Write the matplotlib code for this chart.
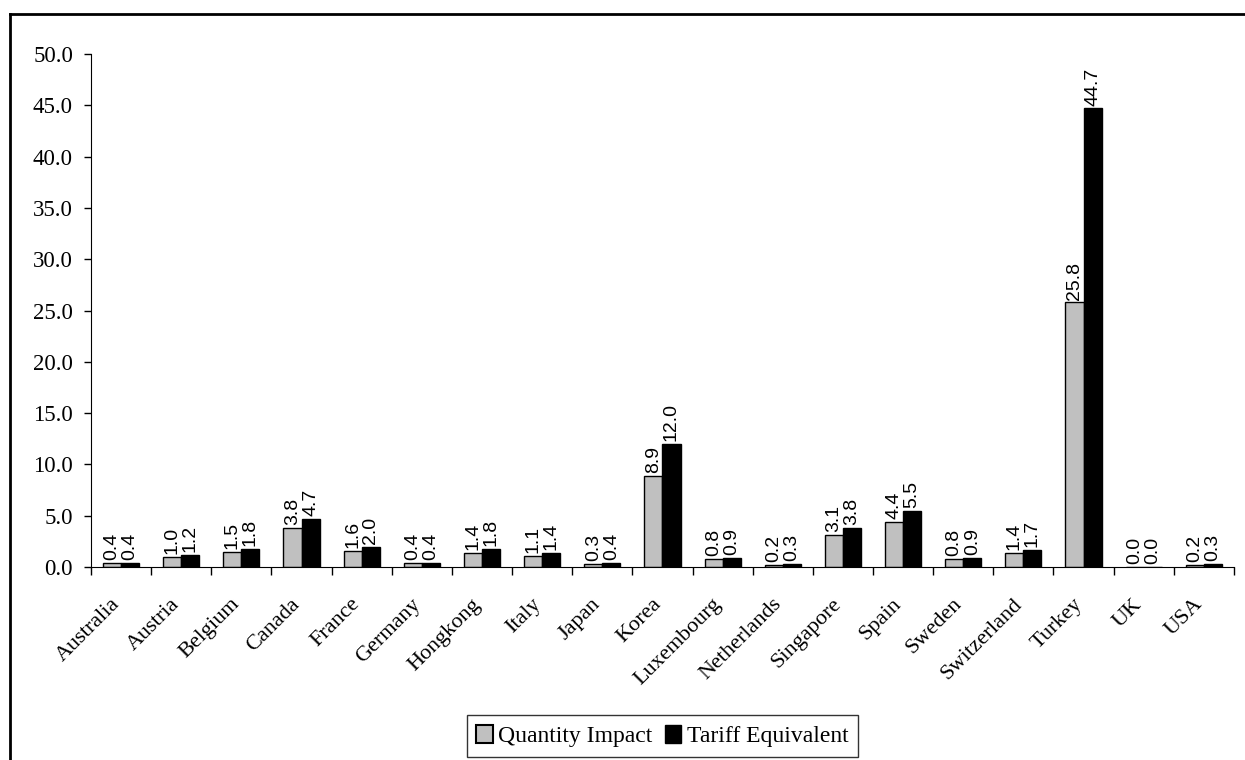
import numpy as np
import matplotlib
matplotlib.use('Agg')
import matplotlib.pyplot as plt
import matplotlib.transforms as mtransforms
from matplotlib.lines import Line2D
from matplotlib.patches import Patch
from matplotlib import font_manager

countries = ['Australia', 'Austria', 'Belgium', 'Canada', 'France', 'Germany',
             'Hongkong', 'Italy', 'Japan', 'Korea', 'Luxembourg', 'Netherlands',
             'Singapore', 'Spain', 'Sweden', 'Switzerland', 'Turkey', 'UK', 'USA']
quantity_impact = [0.4, 1.0, 1.5, 3.8, 1.6, 0.4, 1.4, 1.1, 0.3, 8.9,
                   0.8, 0.2, 3.1, 4.4, 0.8, 1.4, 25.8, 0.0, 0.2]
tariff_equiv = [0.4, 1.2, 1.8, 4.7, 2.0, 0.4, 1.8, 1.4, 0.4, 12.0,
                0.9, 0.3, 3.8, 5.5, 0.9, 1.7, 44.7, 0.0, 0.3]

serif = 'Liberation Serif'
names = {f.name for f in font_manager.fontManager.ttflist}
narrow = 'Liberation Sans Narrow' if 'Liberation Sans Narrow' in names else 'Liberation Sans'

fig = plt.figure(figsize=(12.45, 7.6), dpi=100)
ax = fig.add_axes([0.0731, 0.2539, 0.918, 0.675])

x = np.arange(len(countries)) + 0.5
w = 0.3
b1 = ax.bar(x - w / 2, quantity_impact, w, color='#c0c0c0', edgecolor='black', linewidth=1)
b2 = ax.bar(x + w / 2, tariff_equiv, w, color='black', edgecolor='black', linewidth=1)

for bars, vals in ((b1, quantity_impact), (b2, tariff_equiv)):
    for r, v in zip(bars, vals):
        ax.annotate('%.1f' % v, (r.get_x() + r.get_width() / 2, r.get_height()),
                    xytext=(0, 2), textcoords='offset points', rotation=90,
                    ha='center', va='bottom', fontsize=14, family=narrow)

ax.set_xlim(0, len(countries))
ax.set_ylim(0, 50)
ax.set_yticks(np.arange(0, 51, 5))
ax.set_yticklabels(['%.1f' % t for t in np.arange(0, 51, 5)], family=serif, fontsize=16.5)
ax.set_xticks(np.arange(len(countries) + 1))
ax.set_xticklabels([])
ax.set_xticks(x, minor=True)
ax.set_xticklabels(countries, minor=True, rotation=45, ha='right', va='top',
                   rotation_mode='anchor', family=serif, fontsize=16)
ax.tick_params(axis='x', which='minor', length=0, pad=20)
ax.tick_params(axis='x', which='major', length=6, direction='out', width=1)
ax.tick_params(axis='y', length=5, direction='out', width=1, pad=8)
ax.spines['top'].set_visible(False)
ax.spines['right'].set_visible(False)

# nudge the rotated country names a little to the left of the group centres
shift = mtransforms.ScaledTranslation(-11 / 100, 0, fig.dpi_scale_trans)
for lbl in ax.get_xticklabels(minor=True):
    lbl.set_transform(lbl.get_transform() + shift)

handles = [Patch(facecolor='#c0c0c0', edgecolor='black', linewidth=1.5),
           Patch(facecolor='black', edgecolor='black')]
leg = fig.legend(handles, ['Quantity Impact', 'Tariff Equivalent'], loc='center',
                 bbox_to_anchor=(0.532, 0.0315), ncol=2, frameon=True, fancybox=False,
                 edgecolor='black', handlelength=0.7, handleheight=0.8, handletextpad=0.25,
                 columnspacing=0.5, borderpad=0.4, prop={'family': serif, 'size': 17})
leg.get_frame().set_linewidth(1)

# outer chart border (top and left visible)
fig.add_artist(Line2D([0.008, 1.0], [0.9816, 0.9816], color='black', lw=2, transform=fig.transFigure))
fig.add_artist(Line2D([0.008, 0.008], [0.0, 0.9816], color='black', lw=2, transform=fig.transFigure))

fig.savefig('out.png', dpi=100)
